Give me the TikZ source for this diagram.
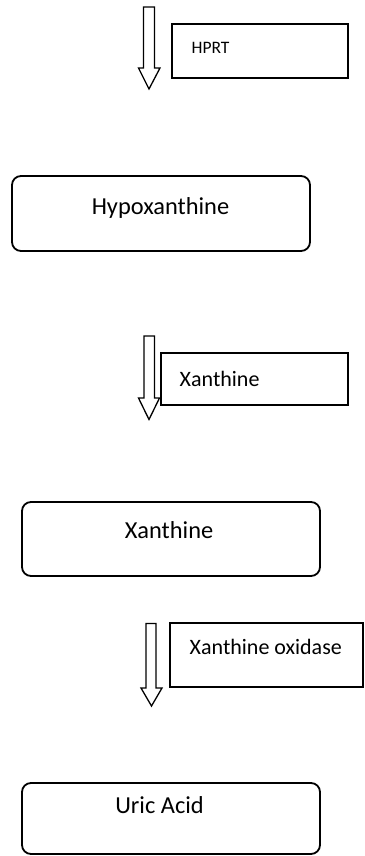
\documentclass[tikz,border=0pt]{standalone}
\usepackage{fontspec}
\setmainfont{Carlito}
\tikzset{
  bigbox/.style={draw,rounded corners=9pt,line width=1.8pt,inner sep=0pt},
  sidebox/.style={draw,line width=1.8pt,inner sep=0pt},
  bigtext/.style={font=\fontsize{24.4}{28}\selectfont,anchor=base,inner sep=0pt},
  sidetext/.style={font=\fontsize{22}{26}\selectfont,anchor=base west,inner sep=0pt},
  blockarrow/.style={draw,line width=1.3pt,line join=miter},
}

\begin{document}
\begin{tikzpicture}[x=1pt,y=-1pt]
  \useasboundingbox (0,0) rectangle (364,856);
  % HPRT step
  \draw[blockarrow] (143.5,7) -- (154.5,7) -- (154.5,68) -- (160,68)
    -- (149,89) -- (138.5,68) -- (143.5,68) -- cycle;
  \node[sidebox,minimum width=176,minimum height=54] (hprt) at (260,51) {};
  \node[sidetext,font=\fontsize{17.5}{21}\selectfont] (hprtlabel) at (191.5,53.5) {HPRT};
  % Hypoxanthine
  \node[bigbox,minimum width=298,minimum height=75] (hypo) at (161,213.5) {};
  \node[bigtext] (hypolabel) at (160.5,214.3) {Hypoxanthine};
  % second step
  \draw[blockarrow] (144,336) -- (154.5,336) -- (154.5,398) -- (159.5,398)
    -- (149,419.5) -- (138.5,398) -- (144,398) -- cycle;
  \node[sidebox,minimum width=187,minimum height=52] (enzb) at (254.5,379) {};
  \node[sidetext] (enzblabel) at (179.5,386.7) {Xanthine};
  % Xanthine
  \node[bigbox,minimum width=298,minimum height=74] (xan) at (171,539) {};
  \node[bigtext] (xanlabel) at (169,538.3) {Xanthine};
  % Xanthine oxidase step
  \draw[blockarrow] (146,623.5) -- (156,623.5) -- (156,688) -- (162,688)
    -- (151.5,706) -- (141,688) -- (146,688) -- cycle;
  \node[sidebox,minimum width=193,minimum height=64] (xo) at (266.5,655) {};
  \node[sidetext] (xolabel) at (189.5,654.3) {Xanthine oxidase};
  % Uric acid
  \node[bigbox,minimum width=298,minimum height=71] (uric) at (171,818.5) {};
  \node[bigtext] (uriclabel) at (159.5,813.3) {Uric Acid};
\end{tikzpicture}
\end{document}
